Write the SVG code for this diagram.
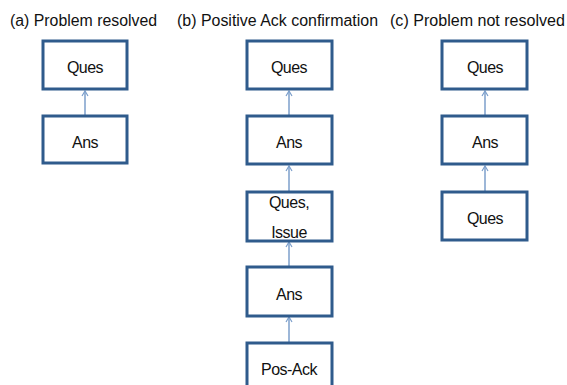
<svg xmlns="http://www.w3.org/2000/svg" width="567" height="385" viewBox="0 0 567 385">
<defs>
<style>
.box{fill:#fff;stroke:#2f5b8c;stroke-width:3}
.t{font-family:"Liberation Sans",Arial,sans-serif;font-size:16px;fill:#111;text-anchor:middle;letter-spacing:-0.5px}
.h{font-family:"Liberation Sans",Arial,sans-serif;font-size:16px;fill:#111}
.c{stroke:#7c9fcb;stroke-width:1.5;fill:none;marker-end:url(#ah)}
</style>
<marker id="ah" markerWidth="8" markerHeight="8" refX="6" refY="4" orient="auto" markerUnits="userSpaceOnUse">
<path d="M1,1 L6,4 L1,7" fill="none" stroke="#7c9fcb" stroke-width="1.2"/>
</marker>
</defs>
<rect width="567" height="385" fill="#fff"/>
<text class="h" x="10" y="26" textLength="147" lengthAdjust="spacingAndGlyphs">(a) Problem resolved</text>
<text class="h" x="177" y="26" textLength="201" lengthAdjust="spacingAndGlyphs">(b) Positive Ack confirmation</text>
<text class="h" x="390" y="26" textLength="175" lengthAdjust="spacingAndGlyphs">(c) Problem not resolved</text>
<g id="connectors">
<line class="c" x1="85" y1="115" x2="85" y2="91"/>
<line class="c" x1="289" y1="115" x2="289" y2="91"/>
<line class="c" x1="289" y1="191" x2="289" y2="166"/>
<line class="c" x1="289" y1="266" x2="289" y2="242"/>
<line class="c" x1="289" y1="342" x2="289" y2="317"/>
<line class="c" x1="485" y1="115" x2="485" y2="91"/>
<line class="c" x1="485" y1="191" x2="485" y2="166"/>
</g>
<g id="a_ques"><rect class="box" x="43" y="41" width="84" height="48"/><text class="t" x="85" y="73">Ques</text></g>
<g id="a_ans"><rect class="box" x="43" y="116" width="84" height="47"/><text class="t" x="85" y="148">Ans</text></g>
<g id="b_ques"><rect class="box" x="247" y="41" width="85" height="48"/><text class="t" x="289" y="73">Ques</text></g>
<g id="b_ans"><rect class="box" x="247" y="116" width="85" height="48"/><text class="t" x="289" y="148">Ans</text></g>
<g id="b_quesissue"><rect class="box" x="247" y="192" width="85" height="49"/><text class="t" x="289" y="208">Ques,</text><text class="t" x="289" y="238">Issue</text></g>
<g id="b_ans2"><rect class="box" x="247" y="267" width="85" height="49"/><text class="t" x="289" y="300">Ans</text></g>
<g id="b_posack"><rect class="box" x="247" y="343" width="85" height="50"/><text class="t" x="289" y="375">Pos-Ack</text></g>
<g id="c_ques"><rect class="box" x="442" y="41" width="85" height="48"/><text class="t" x="485" y="73">Ques</text></g>
<g id="c_ans"><rect class="box" x="442" y="116" width="85" height="48"/><text class="t" x="485" y="148">Ans</text></g>
<g id="c_ques2"><rect class="box" x="442" y="192" width="85" height="48"/><text class="t" x="485" y="224">Ques</text></g>
</svg>
